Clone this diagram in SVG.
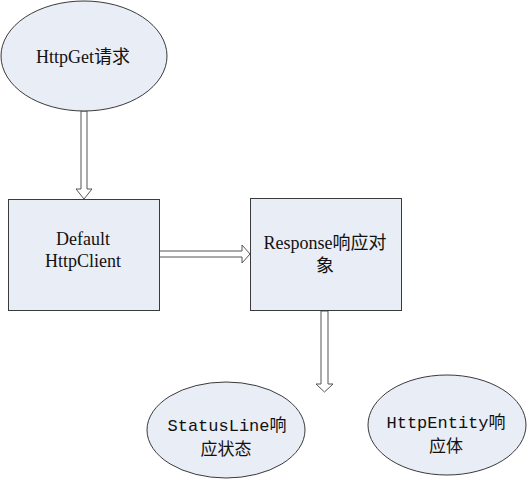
<svg xmlns="http://www.w3.org/2000/svg" width="527" height="479" viewBox="0 0 527 479">
<style>
.node{fill:#e9edf6;stroke:#3a3a3a;stroke-width:1}
.serif{font-family:"Liberation Serif","Noto Sans CJK SC",serif;fill:#111;text-anchor:middle}
.mono{font-family:"Liberation Mono","Noto Sans CJK SC",monospace;fill:#111;text-anchor:middle}
.arrow{fill:#fff;stroke:#555;stroke-width:1}
</style>
<rect width="527" height="479" fill="#fff"/>
<g id="connectors">
<polygon class="arrow" points="81,111 87,111 87,189 92,189 84,199 76,189 81,189"/>
<polygon class="arrow" points="159,251 242,251 242,245 250,254 242,263 242,257 159,257"/>
<polygon class="arrow" points="321,311 328,311 328,384 333,384 324.5,392 316,384 321,384"/>
</g>
<g id="httpget">
<ellipse class="node" cx="84" cy="56" rx="83" ry="55"/>
<text class="serif" x="83" y="63" font-size="18">HttpGet请求</text>
</g>
<g id="defaultclient">
<rect class="node" x="8.5" y="199.5" width="151" height="111"/>
<text class="serif" x="83" y="245" font-size="18">Default</text>
<text class="serif" x="83" y="267" font-size="18">HttpClient</text>
</g>
<g id="response">
<rect class="node" x="250.5" y="198.5" width="151" height="112"/>
<text class="serif" x="325" y="249" font-size="18">Response响应对</text>
<text class="serif" x="325" y="272" font-size="18">象</text>
</g>
<g id="statusline">
<ellipse class="node" cx="226" cy="430" rx="79" ry="48"/>
<text class="mono" x="227" y="431" font-size="17">StatusLine响</text>
<text class="mono" x="226" y="455" font-size="17">应状态</text>
</g>
<g id="httpentity">
<ellipse class="node" cx="447" cy="425" rx="79" ry="50"/>
<text class="mono" x="446" y="428" font-size="17">HttpEntity响</text>
<text class="mono" x="446" y="452" font-size="17">应体</text>
</g>
</svg>
